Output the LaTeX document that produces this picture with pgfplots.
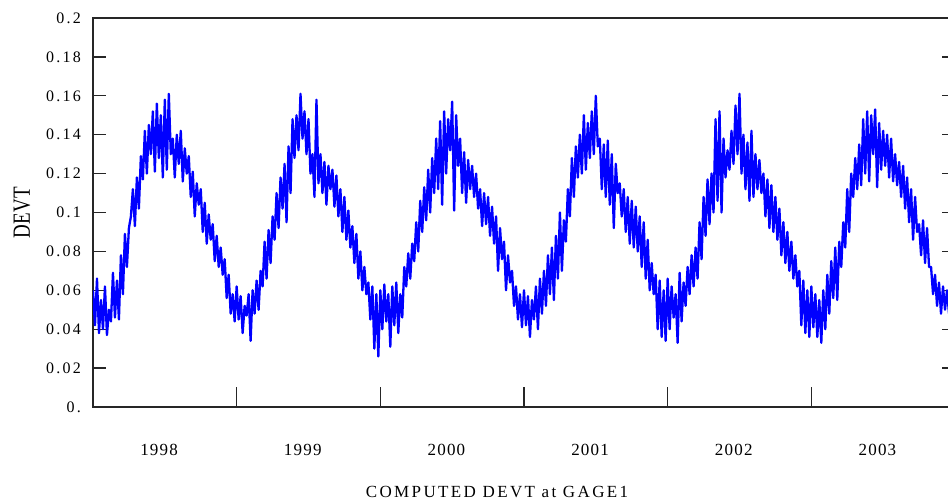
\documentclass[border=0pt]{standalone}
\usepackage{pgfplots}
\usepackage{pgfplotstable}
\pgfplotsset{compat=1.18}
\usepackage{fontspec}
\setmainfont{Liberation Serif}[LetterSpace=14]
\newcommand{\tf}{\fontsize{16bp}{19bp}\selectfont}
\newcommand{\yf}{\fontsize{17bp}{20bp}\selectfont\addfontfeature{LetterSpace=7}}
\pgfplotstableread{
v
0.060
0.042
0.066
0.038
0.055
0.040
0.062
0.037
0.050
0.044
0.069
0.046
0.065
0.045
0.078
0.058
0.089
0.072
0.092
0.098
0.112
0.093
0.118
0.102
0.129
0.117
0.142
0.120
0.145
0.130
0.152
0.121
0.156
0.128
0.150
0.118
0.158
0.122
0.161
0.130
0.138
0.118
0.140
0.125
0.142
0.116
0.133
0.120
0.129
0.108
0.121
0.098
0.115
0.104
0.112
0.090
0.105
0.084
0.099
0.086
0.094
0.075
0.088
0.072
0.082
0.068
0.076
0.056
0.068
0.048
0.058
0.044
0.062
0.045
0.057
0.038
0.052
0.047
0.058
0.034
0.060
0.048
0.065
0.050
0.070
0.062
0.085
0.066
0.091
0.074
0.098
0.086
0.110
0.092
0.118
0.102
0.125
0.095
0.134
0.110
0.148
0.128
0.150
0.132
0.161
0.138
0.152
0.130
0.148
0.120
0.130
0.108
0.158
0.115
0.130
0.110
0.126
0.104
0.124
0.112
0.122
0.103
0.119
0.098
0.112
0.090
0.108
0.086
0.101
0.082
0.093
0.074
0.089
0.066
0.080
0.060
0.072
0.058
0.064
0.045
0.062
0.030
0.058
0.026
0.060
0.040
0.063
0.044
0.058
0.031
0.062
0.042
0.064
0.038
0.058
0.046
0.072
0.062
0.079
0.066
0.084
0.075
0.095
0.080
0.106
0.090
0.113
0.096
0.122
0.100
0.128
0.110
0.138
0.112
0.147
0.104
0.152
0.120
0.148
0.132
0.157
0.101
0.150
0.124
0.138
0.110
0.131
0.105
0.127
0.112
0.124
0.108
0.120
0.102
0.112
0.093
0.110
0.094
0.108
0.088
0.103
0.084
0.098
0.070
0.092
0.076
0.085
0.060
0.078
0.064
0.070
0.052
0.062
0.045
0.058
0.041
0.060
0.042
0.057
0.036
0.055
0.045
0.062
0.040
0.066
0.048
0.070
0.052
0.078
0.058
0.082
0.055
0.088
0.066
0.100
0.070
0.096
0.085
0.112
0.098
0.128
0.108
0.134
0.118
0.140
0.120
0.150
0.122
0.146
0.128
0.152
0.130
0.160
0.134
0.138
0.112
0.135
0.108
0.137
0.104
0.130
0.092
0.125
0.110
0.115
0.098
0.112
0.090
0.108
0.084
0.106
0.082
0.103
0.080
0.098
0.072
0.095
0.066
0.086
0.060
0.074
0.058
0.068
0.040
0.065
0.036
0.060
0.034
0.066
0.040
0.062
0.046
0.058
0.033
0.069
0.044
0.064
0.052
0.072
0.058
0.078
0.062
0.082
0.066
0.095
0.076
0.108
0.088
0.117
0.094
0.120
0.100
0.148
0.106
0.152
0.100
0.138
0.118
0.132
0.122
0.142
0.125
0.155
0.130
0.161
0.120
0.140
0.112
0.136
0.106
0.142
0.108
0.130
0.112
0.127
0.110
0.120
0.098
0.117
0.092
0.114
0.090
0.108
0.086
0.102
0.078
0.095
0.074
0.090
0.070
0.085
0.066
0.078
0.062
0.070
0.042
0.065
0.038
0.060
0.036
0.062
0.041
0.058
0.036
0.055
0.033
0.060
0.040
0.068
0.048
0.075
0.056
0.082
0.055
0.085
0.072
0.095
0.082
0.112
0.090
0.120
0.108
0.128
0.112
0.135
0.114
0.148
0.120
0.152
0.116
0.150
0.130
0.153
0.113
0.146
0.122
0.142
0.124
0.140
0.118
0.138
0.116
0.130
0.114
0.126
0.108
0.124
0.102
0.118
0.095
0.112
0.086
0.108
0.090
0.094
0.078
0.096
0.074
0.092
0.072
0.072
0.058
0.068
0.052
0.064
0.048
0.062
0.050
0.060
0.048
0.058
0.050
}\devt
\begin{document}
\begin{tikzpicture}
\useasboundingbox (-93bp,-97bp) rectangle (855bp,407bp);
\clip (-93bp,-97bp) rectangle (855bp,407bp);
\begin{axis}[
  scale only axis,
  width=862bp, height=389bp,
  xmin=1998, xmax=2004,
  ymin=0, ymax=0.2,
  axis line style={line width=1.3bp, black!85},
  tick style={line width=1.3bp, black!85},
  tick align=inside,
  major tick length=13bp,
  xtick={1999,2000,2001,2002,2003},
  xticklabels={},
  xtick pos=left,
  xtick style={/pgfplots/major tick length=20bp},
  ytick={0,0.02,0.04,0.06,0.08,0.1,0.12,0.14,0.16,0.18,0.2},
  yticklabels={0.,0.02,0.04,0.06,0.08,0.1,0.12,0.14,0.16,0.18,0.2},
  ytick pos=both,
  yticklabel style={font=\tf, anchor=east, inner sep=0pt, xshift=-12bp},
  /pgf/number format/assume math mode=true,
  xlabel={COMPUTED DEVT at GAGE1},
  xlabel style={font=\fontsize{17bp}{20bp}\selectfont, at={(axis description cs:0.4687,0)}, anchor=north, inner sep=0pt, yshift=-79bp},
  ylabel={\scalebox{1}[1.3]{DEVT}},
  ylabel style={font=\fontsize{19bp}{22bp}\selectfont\addfontfeature{LetterSpace=2}, at={(axis description cs:0,0.5)}, anchor=center, yshift=71bp},
  clip mode=individual,
]
\addplot[color={rgb,255:red,0;green,0;blue,255}, line width=2.3bp, line join=round]
  table[x expr=1998+\coordindex/72, y=v] {\devt};
\node[anchor=north, inner sep=0pt, yshift=-37bp, font=\yf] at (axis cs:1998.46,0) {1998};
\node[anchor=north, inner sep=0pt, yshift=-37bp, font=\yf] at (axis cs:1999.46,0) {1999};
\node[anchor=north, inner sep=0pt, yshift=-37bp, font=\yf] at (axis cs:2000.46,0) {2000};
\node[anchor=north, inner sep=0pt, yshift=-37bp, font=\yf] at (axis cs:2001.46,0) {2001};
\node[anchor=north, inner sep=0pt, yshift=-37bp, font=\yf] at (axis cs:2002.46,0) {2002};
\node[anchor=north, inner sep=0pt, yshift=-37bp, font=\yf] at (axis cs:2003.46,0) {2003};
\end{axis}
\end{tikzpicture}
\end{document}
